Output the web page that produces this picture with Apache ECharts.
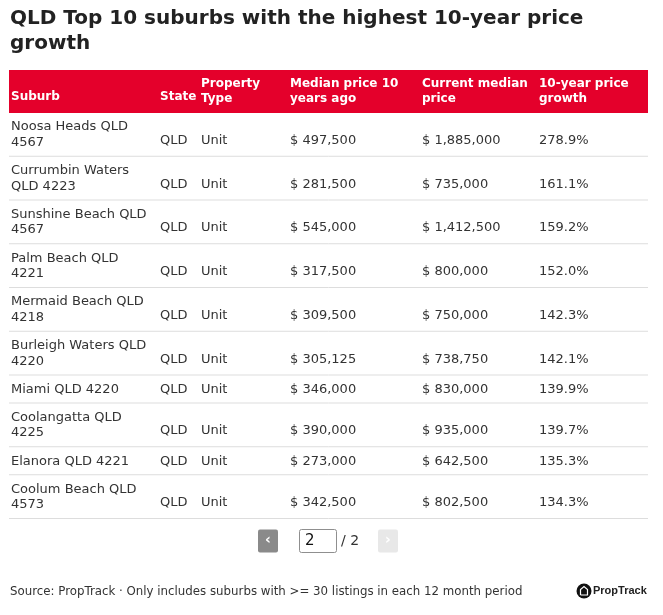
<!DOCTYPE html>
<html>
<head>
<meta charset="utf-8">
<script src="https://cdn.jsdelivr.net/npm/echarts@6/dist/echarts.min.js"></script>
<style>
  html, body { margin: 0; padding: 0; background: #fff; }
  #main { width: 663px; height: 615px; }
</style>
</head>
<body>
<div id="main"></div>
<script>
// ---- data ----
var headers = ['Suburb', 'State', 'Property\nType', 'Median price 10\nyears ago', 'Current median\nprice', '10-year price\ngrowth'];
var suburbs = ['Noosa Heads QLD\n4567', 'Currumbin Waters\nQLD 4223', 'Sunshine Beach QLD\n4567', 'Palm Beach QLD\n4221', 'Mermaid Beach QLD\n4218', 'Burleigh Waters QLD\n4220', 'Miami QLD 4220', 'Coolangatta QLD\n4225', 'Elanora QLD 4221', 'Coolum Beach QLD\n4573'];
var states = ['QLD', 'QLD', 'QLD', 'QLD', 'QLD', 'QLD', 'QLD', 'QLD', 'QLD', 'QLD'];
var propTypes = ['Unit', 'Unit', 'Unit', 'Unit', 'Unit', 'Unit', 'Unit', 'Unit', 'Unit', 'Unit'];
var median10 = [497500, 281500, 545000, 317500, 309500, 305125, 346000, 390000, 273000, 342500];
var currentMedian = [1885000, 735000, 1412500, 800000, 750000, 738750, 830000, 935000, 642500, 802500];
var growth = [278.9, 161.1, 159.2, 152.0, 142.3, 142.1, 139.9, 139.7, 135.3, 134.3];
var titleText = 'QLD Top 10 suburbs with the highest 10-year price\ngrowth';
var sourceText = 'Source: PropTrack \u00b7 Only includes suburbs with >= 30 listings in each 12 month period';
var currentPage = 2, totalPages = 2;

// ---- layout ----
var tableLeft = 9, tableRight = 648, headTop = 70, bodyTop = 113;
var colX = [2, 151, 192, 281, 413, 530]; // text offsets from tableLeft
var RED = '#e4002b';
var FONT = '"DejaVu Sans", sans-serif';
var TXT = '#333333';

function fmtMoney(v) { return '$ ' + v.toLocaleString('en-US'); }
function fmtPct(v) { return v.toFixed(1) + '%'; }

// row extents from number of lines
var rowTop = [], rowBot = [], acc = 0;
for (var i = 0; i < suburbs.length; i++) {
  var h = suburbs[i].indexOf('\n') >= 0 ? 43.75 : 28;
  rowTop.push(acc); acc += h; rowBot.push(acc);
}
var bodyH = acc;

var rowData = suburbs.map(function (s, i) { return [i, rowTop[i], rowBot[i]]; });

function renderRow(params, api) {
  var i = params.dataIndex;
  var top = api.coord([0, api.value(1)]);
  var bot = api.coord([0, api.value(2)]);
  var right = api.coord([tableRight - tableLeft, api.value(2)]);
  var cy = (top[1] + bot[1]) / 2;
  var two = suburbs[i].indexOf('\n') >= 0;
  var lines = suburbs[i].split('\n');
  var children = [];
  children.push({
    type: 'line',
    shape: { x1: top[0], y1: bot[1] - 0.5, x2: right[0], y2: bot[1] - 0.5 },
    style: { stroke: '#dddddd', lineWidth: 1 }
  });
  lines.forEach(function (ln, k) {
    children.push({
      type: 'text',
      style: {
        text: ln, x: top[0] + colX[0], y: two ? cy + (k === 0 ? -8 : 7.5) : cy,
        fill: TXT, font: '13px ' + FONT, verticalAlign: 'middle', align: 'left'
      }
    });
  });
  var others = [states[i], propTypes[i], fmtMoney(median10[i]), fmtMoney(currentMedian[i]), fmtPct(growth[i])];
  others.forEach(function (t, k) {
    children.push({
      type: 'text',
      style: {
        text: t, x: top[0] + colX[k + 1], y: two ? cy + 5.5 : cy,
        fill: TXT, font: '13px ' + FONT, verticalAlign: 'middle', align: 'left'
      }
    });
  });
  return { type: 'group', children: children };
}

// header graphics
var graphics = [];
graphics.push({ type: 'rect', shape: { x: tableLeft, y: headTop, width: tableRight - tableLeft, height: bodyTop - headTop }, style: { fill: RED }, z: 1 });
headers.forEach(function (h, k) {
  var parts = h.split('\n');
  parts.forEach(function (p, j) {
    var y = parts.length === 2 ? (j === 0 ? 83.5 : 99) : 96.5;
    graphics.push({
      type: 'text', z: 2,
      style: { text: p, x: tableLeft + colX[k], y: y, fill: '#ffffff', font: 'bold 12px ' + FONT, verticalAlign: 'middle' }
    });
  });
});
// pagination
graphics.push({ type: 'rect', shape: { x: 258, y: 529.5, width: 20, height: 23, r: 2 }, style: { fill: '#8a8a8a' } });
graphics.push({ type: 'text', style: { text: '\u2039', x: 268, y: 540, fill: '#ffffff', font: 'bold 14px ' + FONT, align: 'center', verticalAlign: 'middle' } });
graphics.push({ type: 'rect', shape: { x: 299.5, y: 529.5, width: 37, height: 23, r: 2 }, style: { fill: '#ffffff', stroke: '#8f8f8f', lineWidth: 1 } });
graphics.push({ type: 'text', style: { text: String(currentPage), x: 305, y: 541, fill: '#111111', font: '15px ' + FONT, verticalAlign: 'middle' } });
graphics.push({ type: 'text', style: { text: '/ ' + totalPages, x: 341, y: 541, fill: '#333333', font: '14px ' + FONT, verticalAlign: 'middle' } });
graphics.push({ type: 'rect', shape: { x: 378, y: 529.5, width: 20, height: 23, r: 2 }, style: { fill: '#e8e8e8' } });
graphics.push({ type: 'text', style: { text: '\u203a', x: 388, y: 540, fill: '#ffffff', font: 'bold 14px ' + FONT, align: 'center', verticalAlign: 'middle' } });
// source
graphics.push({ type: 'text', style: { text: sourceText, x: 10, y: 592, fill: '#333333', font: '11.8px ' + FONT, verticalAlign: 'middle' } });
// logo
graphics.push({ type: 'circle', shape: { cx: 584, cy: 591, r: 7.5 }, style: { fill: '#111111' } });
graphics.push({ type: 'polyline', shape: { points: [[580.5, 595], [580.5, 589.5], [584, 586.5], [587.5, 589.5], [587.5, 595], [580.5, 595]] }, style: { stroke: '#ffffff', lineWidth: 1.2, fill: null } });
graphics.push({ type: 'text', style: { text: 'PropTrack', x: 593, y: 591, fill: '#222222', font: 'bold 11px "Liberation Sans", Arial, sans-serif', verticalAlign: 'middle' } });

var chart = echarts.init(document.getElementById('main'), null, { renderer: 'canvas' });
chart.setOption({
  backgroundColor: '#ffffff',
  animation: false,
  title: {
    text: titleText, left: 10, top: 6, padding: 0,
    textStyle: { fontFamily: FONT, fontWeight: 'bold', fontSize: 20, color: '#222222', lineHeight: 25 }
  },
  grid: { left: tableLeft, top: bodyTop, width: tableRight - tableLeft, height: bodyH },
  xAxis: { type: 'value', min: 0, max: tableRight - tableLeft, show: false },
  yAxis: { type: 'value', min: 0, max: bodyH, inverse: true, show: false },
  series: [{
    type: 'custom',
    renderItem: renderRow,
    data: rowData,
    encode: { x: 0, y: [1, 2] },
    silent: true
  }],
  graphic: graphics
});
</script>
</body>
</html>
